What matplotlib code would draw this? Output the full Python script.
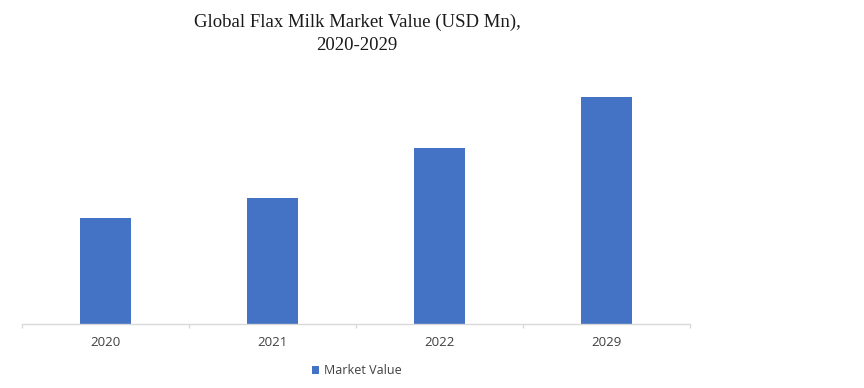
import matplotlib.pyplot as plt
from matplotlib.patches import Patch

# data (no value axis in the source; heights)
years = ["2020", "2021", "2022", "2029"]
market_value = [106, 126, 176, 227]

BAR_COLOR = "#4472C4"
AXIS_COLOR = "#D9D9D9"

fig = plt.figure(figsize=(8.64, 3.88), dpi=100)
ax = fig.add_axes([22 / 864, 1 - 324 / 388, 668 / 864, 250 / 388])

x = range(len(years))
ax.bar(x, market_value, width=0.31, color=BAR_COLOR, zorder=2)

ax.set_xlim(-0.5, len(years) - 0.5)
ax.set_ylim(0, 250)

for s in ["top", "right", "left"]:
    ax.spines[s].set_visible(False)
ax.spines["bottom"].set_color(AXIS_COLOR)
ax.spines["bottom"].set_linewidth(1.0)
ax.set_yticks([])

# category labels, ticks at category boundaries
ax.set_xticks(list(x))
ax.set_xticklabels(years, fontsize=9.5, color="#404040", family="Open Sans")
ax.tick_params(axis="x", which="major", length=0, pad=9)
ax.set_xticks([i - 0.5 for i in range(len(years) + 1)], minor=True)
ax.tick_params(axis="x", which="minor", length=3, color=AXIS_COLOR, width=1.0)

fig.text(357 / 864, 1 - 22 / 388, "Global Flax Milk Market Value (USD Mn),",
         ha="center", va="center", fontsize=13.5, family="Liberation Serif", color="#1a1a1a")
fig.text(357 / 864, 1 - 45 / 388, "2020-2029",
         ha="center", va="center", fontsize=13.5, family="Liberation Serif", color="#1a1a1a")

handles = [Patch(facecolor=BAR_COLOR, label="Market Value")]
fig.legend(handles=handles, loc="center", bbox_to_anchor=(357 / 864, 1 - 371 / 388),
           frameon=False, prop={"family": "Open Sans", "size": 9},
           handlelength=0.6, handleheight=0.6, handletextpad=0.4, labelcolor="#404040")

fig.savefig("out.png", dpi=100, facecolor="white")
